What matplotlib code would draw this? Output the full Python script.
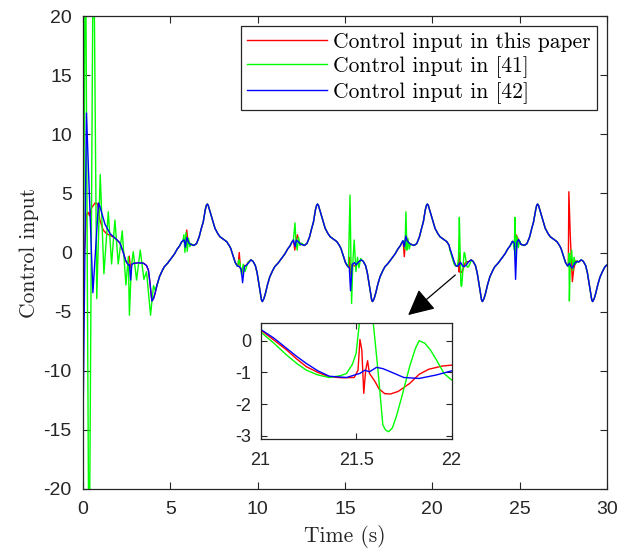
import matplotlib.pyplot as plt
import numpy as np

plt.rcParams["axes.unicode_minus"] = False
plt.rcParams["font.family"] = ["Liberation Sans", "DejaVu Sans"]

# steady periodic part shared by all three controllers (t in s)
t_base = [
    1.93, 2.12, 2.31, 2.45, 2.60, 2.88, 3.17, 3.46, 3.64, 3.75, 3.84, 3.90, 3.95,
    4.04, 4.13, 4.25, 4.38, 4.55, 4.66, 4.85, 5.05, 5.25, 5.40, 5.53, 5.65, 5.77,
    5.95, 6.15, 6.35, 6.50, 6.65, 6.77, 6.89, 7.00, 7.07, 7.12, 7.17, 7.22, 7.37,
    7.56, 7.72, 7.84, 8.02, 8.23, 8.37, 8.46, 8.61, 8.72, 8.84, 9.02, 9.17, 9.32,
    9.47, 9.62, 9.74, 9.87, 9.97, 10.07, 10.17, 10.22, 10.27,
    10.36, 10.45, 10.57, 10.70, 10.87, 10.98, 11.17, 11.37, 11.57, 11.72, 11.85,
    11.97, 12.09, 12.27, 12.47, 12.67, 12.82, 12.97, 13.09, 13.20, 13.31, 13.38,
    13.43, 13.48, 13.53, 13.68, 13.87, 14.03, 14.15, 14.33, 14.54, 14.68, 14.77,
    14.92, 15.03, 15.15, 15.33, 15.48, 15.63, 15.78, 15.93, 16.05, 16.18, 16.28,
    16.38, 16.48, 16.53, 16.58,
    16.67, 16.76, 16.88, 17.01, 17.18, 17.29, 17.48, 17.68, 17.88, 18.03, 18.16,
    18.28, 18.40, 18.58, 18.77, 18.96, 19.11, 19.26, 19.38, 19.49, 19.60, 19.67,
    19.72, 19.77, 19.82, 19.97, 20.16, 20.32, 20.44, 20.62, 20.83, 20.97,
    22.07, 22.22, 22.34, 22.47, 22.57, 22.67, 22.77, 22.82, 22.87,
    22.96, 23.05, 23.17, 23.30, 23.47, 23.58, 23.77, 23.97, 24.17, 24.32, 24.45,
    24.57, 24.69, 24.87, 25.07, 25.27, 25.42, 25.57, 25.69, 25.80, 25.92, 25.98,
    26.03, 26.08, 26.13, 26.28, 26.47, 26.63, 26.75, 26.93, 27.14, 27.28, 27.37,
    27.52, 27.63, 27.75, 27.93, 28.08, 28.23, 28.38, 28.53, 28.65, 28.78, 28.88,
    28.98, 29.08, 29.13, 29.18, 29.27, 29.36, 29.48, 29.61, 29.78, 29.89, 30.00,
]
u_base = [
    1.10, 0.80, 0.00, -0.70, -1.06, -0.92, -0.87, -0.90, -1.10, -1.50, -2.60, -3.50, -4.10,
    -3.90, -3.45, -2.70, -2.05, -1.50, -1.20, -0.90, -0.50, -0.10, 0.30, 0.55, 0.90, 1.06,
    0.95, 0.70, 0.60, 0.75, 1.30, 2.00, 2.60, 3.60, 4.00, 4.10, 4.00, 3.75, 3.03,
    2.04, 1.60, 1.34, 1.15, 0.92, 0.60, 0.35, -0.35, -0.85, -1.14, -1.25, -1.20, -1.06,
    -0.80, -0.62, -0.75, -1.10, -1.70, -2.60, -3.50, -4.00, -4.15,
    -3.90, -3.45, -2.70, -2.05, -1.50, -1.20, -0.90, -0.50, -0.10, 0.30, 0.55,
    0.90, 1.06, 0.95, 0.70, 0.60, 0.75, 1.30, 2.00, 2.60, 3.60, 4.00,
    4.10, 4.00, 3.75, 3.03, 2.04, 1.60, 1.34, 1.15, 0.92, 0.60, 0.35,
    -0.35, -0.85, -1.14, -1.25, -1.20, -1.06, -0.80, -0.62, -0.75, -1.10, -1.70,
    -2.60, -3.50, -4.00, -4.15,
    -3.90, -3.45, -2.70, -2.05, -1.50, -1.20, -0.90, -0.50, -0.10, 0.30, 0.55,
    0.90, 1.06, 0.95, 0.70, 0.60, 0.75, 1.30, 2.00, 2.60, 3.60, 4.00,
    4.10, 4.00, 3.75, 3.03, 2.04, 1.60, 1.34, 1.15, 0.92, 0.60,
    -0.80, -0.62, -0.75, -1.10, -1.70, -2.60, -3.50, -4.00, -4.15,
    -3.90, -3.45, -2.70, -2.05, -1.50, -1.20, -0.90, -0.50, -0.10, 0.30, 0.55,
    0.90, 1.06, 0.95, 0.70, 0.60, 0.75, 1.30, 2.00, 2.60, 3.60, 4.00,
    4.10, 4.00, 3.75, 3.03, 2.04, 1.60, 1.34, 1.15, 0.92, 0.60, 0.35,
    -0.35, -0.85, -1.14, -1.25, -1.20, -1.06, -0.80, -0.62, -0.75, -1.10, -1.70,
    -2.60, -3.50, -4.00, -4.15, -3.90, -3.45, -2.70, -2.05, -1.50, -1.20, -1.05,
]

# start-up transients
t_red0 = [0.0, 0.02, 0.10, 0.20, 0.30, 0.38, 0.50, 0.70, 0.85, 0.97, 1.16, 1.35, 1.55, 1.75]
u_red0 = [60.0, -0.8, 0.5, 3.2, 3.4, 3.1, 3.8, 4.2, 4.1, 2.75, 1.9, 1.6, 1.45, 1.3]

t_green0 = [0.0, 0.14, 0.35, 0.60, 0.79, 0.99, 1.20, 1.45, 1.64, 1.83, 2.02, 2.25, 2.46,
            2.60, 2.66, 2.77, 2.88, 3.07, 3.28, 3.49, 3.64, 3.87, 4.04, 4.13, 4.30]
u_green0 = [-13.0, 30.0, -30.0, 30.0, -3.9, 6.6, -1.8, 3.45, -0.97, 2.75, -0.97, 1.82, -2.75,
            -0.35, -5.3, -1.2, 0.07, -2.33, 0.21, -2.27, -1.62, -5.3, -2.8, -3.2, -2.5]

t_blue0 = [0.0, 0.01, 0.20, 0.57, 0.89, 0.97, 1.26, 1.55]
u_blue0 = [-40.0, -14.0, 11.8, -3.4, 4.2, 3.9, 2.4, 1.6]

# responses to the periodic disturbances
red_bursts = [
    ([2.58, 2.65, 2.72, 2.80], [-1.0, -0.3, -1.3, -1.0]),
    ([5.80, 5.88, 5.94, 6.02, 6.10], [1.0, 0.4, 1.9, 0.9, 0.8]),
    ([8.88, 8.95, 9.02, 9.10, 9.20, 9.35], [-1.15, 0.0, -1.4, -1.7, -1.1, -1.1]),
    ([12.05, 12.13, 12.20, 12.28, 12.38, 12.50], [1.06, 0.2, 1.0, 1.5, 0.8, 0.75]),
    ([15.22, 15.27, 15.33, 15.42, 15.55], [-1.25, -0.4, -1.9, -1.0, -1.15]),
    ([18.33, 18.40, 18.48, 18.56, 18.66], [0.95, -0.35, 1.3, 1.2, 0.75]),
    ([21.0, 21.07, 21.136, 21.19, 21.24, 21.30, 21.36, 21.43, 21.49, 21.51, 21.52,
      21.53, 21.54, 21.55, 21.56, 21.57, 21.60, 21.62, 21.65, 21.68, 21.72, 21.78,
      21.83, 21.88, 21.95, 22.0],
     [0.34, 0.02, -0.29, -0.58, -0.82, -1.0, -1.14, -1.17, -1.16, -0.93, 0.04,
      -0.29, -1.66, -0.93, -0.63, -1.03, -1.3, -1.52, -1.67, -1.68, -1.6, -1.35,
      -1.06, -0.9, -0.8, -0.77]),
    ([24.62, 24.72, 24.80, 24.90, 25.00], [0.95, 0.4, 1.5, 1.2, 0.75]),
    ([27.79, 27.82, 27.90, 28.02, 28.10, 28.22, 28.35], [-1.1, 5.14, 1.5, -2.47, -1.4, -0.7, -0.8]),
]

green_bursts = [
    ([5.72, 5.78, 5.84, 5.90, 5.97, 6.05, 6.12, 6.20], [0.95, 1.5, 0.0, 1.7, 0.1, 1.2, 0.5, 0.75]),
    ([8.86, 8.93, 9.00, 9.08, 9.18, 9.28, 9.40], [-1.15, -0.6, -1.0, -1.9, -1.0, -1.6, -1.05]),
    ([12.05, 12.14, 12.20, 12.27, 12.34, 12.42, 12.52], [1.06, 2.5, 0.8, 0.2, 1.3, 0.6, 0.8]),
    ([15.20, 15.29, 15.38, 15.46, 15.53, 15.63, 15.72, 15.80, 15.90, 16.00],
     [-1.25, 4.86, -4.3, -0.6, 1.06, -1.62, -0.4, -1.3, -0.5, -0.7]),
    ([18.35, 18.44, 18.49, 18.55, 18.60, 18.68, 18.76], [1.0, 0.3, 3.45, 0.2, 1.2, 0.3, 0.75]),
    ([21.0, 21.07, 21.136, 21.19, 21.24, 21.30, 21.36, 21.42, 21.45, 21.48, 21.50, 21.517,
      21.55, 21.59, 21.616, 21.64, 21.655, 21.67, 21.69, 21.71, 21.74, 21.78, 21.81,
      21.83, 21.86, 21.89, 21.92, 21.96, 22.0, 22.08, 22.20],
     [0.28, -0.08, -0.45, -0.72, -0.93, -1.08, -1.16, -1.1, -1.03, -0.75, -0.4, 0.55,
      2.98, 0.55, -1.03, -2.66, -2.82, -2.87, -2.75, -2.4, -1.75, -0.82, -0.25,
      0.0, -0.08, -0.3, -0.6, -1.03, -1.24, -1.2, -0.8]),
    ([24.62, 24.70, 24.73, 24.78, 24.84, 24.92, 25.00, 25.10], [0.95, 0.2, 2.98, -0.6, 1.4, 0.4, 1.0, 0.65]),
    ([27.78, 27.83, 27.85, 27.90, 27.98, 28.05, 28.12, 28.20, 28.30],
     [-1.14, -0.07, -4.1, -0.9, 0.2, -1.5, -0.4, -1.0, -0.7]),
]

blue_bursts = [
    ([2.66, 2.73, 2.80], [-1.0, -2.33, -1.0]),
    ([5.80, 5.86, 5.95, 6.05], [1.06, 0.45, 1.28, 0.85]),
    ([8.95, 9.06, 9.14, 9.24, 9.37, 9.50], [-1.2, -1.4, -2.55, -1.2, -1.06, -0.85]),
    ([12.05, 12.15, 12.22, 12.30], [1.06, 0.5, 1.05, 0.95]),
    ([15.15, 15.25, 15.32, 15.42, 15.55], [-1.15, -1.3, -3.23, -1.0, -0.85]),
    ([18.32, 18.40, 18.48, 18.56, 18.65], [1.0, 0.5, 1.4, 1.0, 0.85]),
    ([21.0, 21.07, 21.136, 21.19, 21.24, 21.30, 21.36, 21.45, 21.52, 21.546, 21.57,
      21.607, 21.64, 21.68, 21.75, 21.83, 21.92, 22.0],
     [0.36, 0.08, -0.24, -0.5, -0.72, -0.95, -1.12, -1.16, -1.03, -0.93, -0.98,
      -0.84, -0.88, -0.98, -1.16, -1.19, -1.08, -0.95]),
    ([24.60, 24.70, 24.77, 24.85, 24.95, 25.05], [0.95, 0.8, -2.27, 0.9, 1.1, 0.75]),
    ([27.75, 27.85, 27.95, 28.03, 28.15, 28.30], [-1.14, -0.9, -1.2, -1.3, -0.9, -0.75]),
]


def assemble(t0, u0, bursts):
    t = np.asarray(t_base)
    u = np.asarray(u_base)
    keep = t > t0[-1]
    for bt, bu in bursts:
        keep &= (t < bt[0]) | (t > bt[-1])
    tt = np.concatenate([t0, t[keep]] + [np.asarray(b[0]) for b in bursts])
    uu = np.concatenate([u0, u[keep]] + [np.asarray(b[1]) for b in bursts])
    order = np.argsort(tt, kind="stable")
    return tt[order], uu[order]


series = [
    (assemble(t_red0, u_red0, red_bursts), "#ff0000", "Control input in this paper"),
    (assemble(t_green0, u_green0, green_bursts), "#00ff00", "Control input in [41]"),
    (assemble(t_blue0, u_blue0, blue_bursts), "#0000ff", "Control input in [42]"),
]

serif = "cmr10"
edge = "#262626"

fig = plt.figure(figsize=(6.19, 5.55), dpi=100)
ax = fig.add_axes([0.134, 0.119, 0.8465, 0.852])
for (t, u), c, lab in series:
    ax.plot(t, u, color=c, lw=1.0, label=lab)

ax.set_xlim(0, 30)
ax.set_ylim(-20, 20)
ax.set_xticks(np.arange(0, 31, 5))
ax.set_yticks(np.arange(-20, 21, 5))
ax.tick_params(direction="in", top=True, right=True, length=5, width=0.8,
               labelsize=14, colors=edge)
ax.tick_params(axis="x", pad=9)
ax.tick_params(axis="y", pad=8)
for s in ax.spines.values():
    s.set_color(edge)
    s.set_linewidth(0.9)
ax.set_xlabel("Time (s)", family=serif, fontsize=15.5, color=edge, labelpad=5)
ax.set_ylabel("Control input", family=serif, fontsize=15.5, color=edge, labelpad=3)

leg = ax.legend(loc="upper right", prop={"family": serif, "size": 15.5},
                fancybox=False, framealpha=1, edgecolor=edge, handlelength=3.7,
                handletextpad=0.3, labelspacing=0.2, borderaxespad=0.45,
                borderpad=0.3)
leg.get_frame().set_linewidth(0.9)

ax.annotate("", xy=(18.62, -5.29), xytext=(21.32, -1.9),
            arrowprops=dict(arrowstyle="-|>,head_length=0.8,head_width=0.4",
                            mutation_scale=20, color="black", lw=0.9,
                            shrinkA=0, shrinkB=0))

# zoomed view of the event near t = 21.5 s
ins = fig.add_axes([0.421, 0.209, 0.3086, 0.2085])
for (t, u), c, lab in series:
    ins.plot(t, u, color=c, lw=1.0)
ins.set_xlim(21, 22)
ins.set_ylim(-3.1, 0.55)
ins.set_xticks([21, 21.5, 22])
ins.set_xticklabels(["21", "21.5", "22"])
ins.set_yticks([-3, -2, -1, 0])
ins.tick_params(direction="in", top=True, right=True, length=4, width=0.8,
                labelsize=13, colors=edge)
ins.tick_params(axis="x", pad=9)
ins.tick_params(axis="y", pad=7)
for s in ins.spines.values():
    s.set_color(edge)
    s.set_linewidth(0.9)

fig.savefig("out.png", dpi=100)
